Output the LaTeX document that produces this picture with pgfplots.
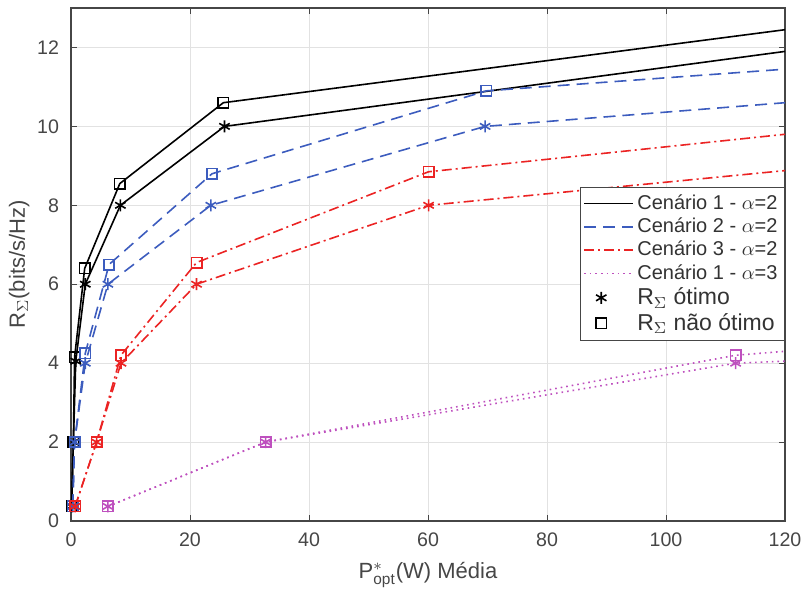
\documentclass[border=0pt]{standalone}
\usepackage{amsmath}
\usepackage{fontspec}
\setmainfont{Liberation Sans}
\usepackage{pgfplots}
\pgfplotsset{compat=1.18}
\definecolor{cblue}{RGB}{60,92,190}
\definecolor{cred}{RGB}{235,35,35}
\definecolor{cmag}{RGB}{190,80,190}
\definecolor{ctxt}{RGB}{70,70,70}
\definecolor{cgrid}{RGB}{226,226,226}
\pgfplotsset{lineleg/.style={legend image code/.code={\draw[##1] (0cm,0cm) -- (0.85cm,0cm);}}}
\begin{document}
\begin{tikzpicture}
\useasboundingbox (-35.5pt,-37pt) rectangle (365.5pt,260.5pt);
\begin{axis}[
  at={(0,0)}, anchor=south west,
  scale only axis, width=357pt, height=256.5pt,
  xmin=0, xmax=120, ymin=0, ymax=13,
  xtick={0,20,...,120}, ytick={0,2,...,12},
  tick align=inside, major tick length=3pt,
  tick style={ctxt, line width=0.4pt},
  axis line style={ctxt, line width=0.6pt},
  grid=major, major grid style={cgrid, line width=0.5pt},
  ticklabel style={font=\fontsize{9.8}{11}\selectfont, text=ctxt},
  xticklabel style={yshift=-2.5pt},
  yticklabel style={xshift=-2.5pt},
  /pgf/number format/assume math mode=true,
  xlabel={P$^{*}_{\text{opt}}$(W) Média},
  ylabel={R$_{\Sigma}$(bits/s/Hz)},
  label style={font=\fontsize{11}{13}\selectfont, text=ctxt},
  xlabel style={yshift=-1pt},
  ylabel style={yshift=-3pt},
  legend cell align=left,
  legend style={at={(1,0.651)}, anchor=north east, draw=ctxt, line width=0.5pt,
    font=\fontsize{10}{12}\selectfont, text=black!80, row sep=-1.2pt,
    inner xsep=1.5pt, inner ysep=1.5pt},
  every axis plot/.append style={line width=0.8pt},
]
% Cenario 1 alpha=2 (black)
\addplot[black, mark=square, mark size=2.6pt, mark options={solid}, mark indices={1,2,3,4,5,6}, forget plot]
 coordinates {(0.1,0.37) (0.4,2) (0.6,4.15) (2.3,6.4) (8.2,8.55) (25.6,10.6) (120,12.45)};
\addplot[black, mark=asterisk, mark size=3pt, mark options={solid}, mark indices={1,2,3,4,5,6}, forget plot]
 coordinates {(0.1,0.37) (0.4,2) (0.8,4.05) (2.4,6) (8.3,8) (25.8,10) (120,11.9)};
% Cenario 2 alpha=2 (blue dashed)
\addplot[cblue, dash pattern=on 6pt off 3.5pt, mark=square, mark size=2.6pt, mark options={solid}, mark indices={1,2,3,4,5,6}, forget plot]
 coordinates {(0.3,0.37) (0.6,2) (2.4,4.25) (6.4,6.5) (23.7,8.8) (69.8,10.9) (120,11.45)};
\addplot[cblue, dash pattern=on 6pt off 3.5pt, mark=asterisk, mark size=3pt, mark options={solid}, mark indices={1,2,3,4,5,6}, forget plot]
 coordinates {(0.3,0.37) (0.6,2) (2.4,4) (6.2,6) (23.5,8) (69.6,10) (120,10.6)};
% Cenario 3 alpha=2 (red dash-dot)
\addplot[cred, dash pattern=on 5pt off 2pt on 1pt off 2pt, mark=square, mark size=2.6pt, mark options={solid}, mark indices={1,2,3,4,5}, forget plot]
 coordinates {(0.7,0.37) (4.3,2) (8.4,4.2) (21.1,6.55) (60.1,8.85) (120,9.8)};
\addplot[cred, dash pattern=on 5pt off 2pt on 1pt off 2pt, mark=asterisk, mark size=3pt, mark options={solid}, mark indices={1,2,3,4,5}, forget plot]
 coordinates {(0.7,0.37) (4.3,2) (8.4,4) (21.1,6) (60.1,8) (120,8.88)};
% Cenario 1 alpha=3 (magenta dotted)
\addplot[cmag, dotted, mark=square, mark size=2.6pt, mark options={solid}, mark indices={1,2,3}, forget plot]
 coordinates {(6.2,0.37) (32.7,2) (111.7,4.2) (120,4.3)};
\addplot[cmag, dotted, mark=asterisk, mark size=3pt, mark options={solid}, mark indices={1,2,3}, forget plot]
 coordinates {(6.2,0.37) (32.7,2) (111.7,4) (120,4.05)};
% legend
\addlegendimage{lineleg, black, line width=0.8pt}
\addlegendentry{Cenário 1 - $\alpha$=2}
\addlegendimage{lineleg, cblue, line width=0.8pt, dash pattern=on 6pt off 3.5pt}
\addlegendentry{Cenário 2 - $\alpha$=2}
\addlegendimage{lineleg, cred, line width=0.8pt, dash pattern=on 5pt off 2pt on 1pt off 2pt}
\addlegendentry{Cenário 3 - $\alpha$=2}
\addlegendimage{lineleg, cmag, line width=0.8pt, dotted}
\addlegendentry{Cenário 1 - $\alpha$=3}
\addlegendimage{black, line width=0.8pt, only marks, mark=asterisk, mark size=3pt}
\addlegendentry{\fontsize{11.5}{13}\selectfont R$_{\Sigma}$ ótimo}
\addlegendimage{black, line width=0.8pt, only marks, mark=square, mark size=2.6pt}
\addlegendentry{\fontsize{11.5}{13}\selectfont R$_{\Sigma}$ não ótimo}
\end{axis}
\end{tikzpicture}
\end{document}
